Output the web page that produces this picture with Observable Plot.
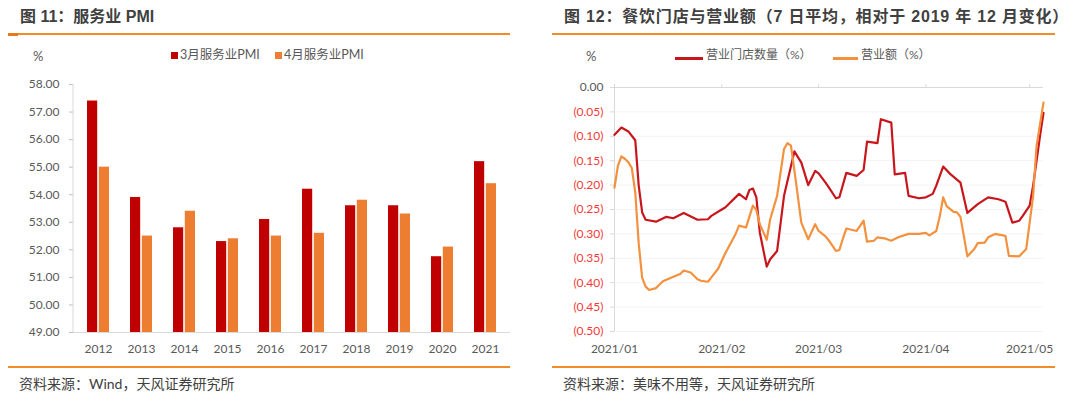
<!DOCTYPE html>
<html><head><meta charset="utf-8">
<script src="https://cdn.jsdelivr.net/npm/d3@7"></script>
<script src="https://cdn.jsdelivr.net/npm/@observablehq/plot@0.6"></script>
<style>
body{margin:0;background:#fff;width:1080px;height:405px;overflow:hidden;position:relative;font-family:Lato,"Noto Sans CJK SC",sans-serif;}
.abs{position:absolute;white-space:nowrap;}
.title{font-family:"Liberation Sans","Noto Sans CJK SC",sans-serif;font-size:16px;font-weight:bold;color:#404040;top:7px;line-height:20px;}
.hr{position:absolute;height:2px;background:#F28C28;}
.hr2{position:absolute;height:3px;background:#E8781C;}
.src{font-size:14px;color:#404040;top:375px;line-height:18px;}
.lg{font-size:12.5px;color:#595959;top:47px;line-height:16px;}
.pct{font-size:13px;color:#595959;top:48px;line-height:16px;}
.chart{position:absolute;top:74px;}
</style></head><body>
<div class="abs title" style="left:20px;">图 11：服务业 PMI</div>
<div class="abs title" style="left:564px;letter-spacing:0.8px;">图 12：餐饮门店与营业额（7 日平均，相对于 2019 年 12 月变化）</div>
<div class="hr" style="left:8px;width:502px;top:33px;"></div>
<div class="hr2" style="left:8px;width:10px;top:33px;"></div>
<div class="hr" style="left:552px;width:503px;top:33px;"></div>
<div class="hr" style="left:8px;width:502px;top:366px;"></div>
<div class="hr" style="left:552px;width:503px;top:366px;"></div>
<div class="abs src" style="left:19px;">资料来源：Wind，天风证券研究所</div>
<div class="abs src" style="left:563px;">资料来源：美味不用等，天风证券研究所</div>

<div class="abs pct" style="left:33px;">%</div>
<div class="abs" style="left:171px;top:52px;width:7px;height:7px;background:#C00000;"></div>
<div class="abs lg" id="lg1" style="left:180px;"></div>
<div class="abs" style="left:275px;top:52px;width:7px;height:7px;background:#ED7D31;"></div>
<div class="abs lg" id="lg2" style="left:284px;"></div>

<div class="abs pct" style="left:586px;">%</div>
<div class="abs" style="left:675px;top:57px;width:28px;height:3px;background:#C8161D;"></div>
<div class="abs lg" id="lg3" style="left:706px;font-size:12px;"></div>
<div class="abs" style="left:833px;top:57px;width:25px;height:3px;background:#F4913F;"></div>
<div class="abs lg" id="lg4" style="left:861px;font-size:12px;"></div>

<div id="left" class="chart" style="left:0px;"></div>
<div id="right" class="chart" style="left:540px;"></div>
<script>
// ---- Left chart data ----
const years = ["2012","2013","2014","2015","2016","2017","2018","2019","2020","2021"];
const pmiMarch = [57.4,53.9,52.8,52.3,53.1,54.2,53.6,53.6,51.75,55.2];
const pmiApril = [55.0,52.5,53.4,52.4,52.5,52.6,53.8,53.3,52.1,54.4];
const barSeries = ["3月服务业PMI","4月服务业PMI"];
const yTicksLeft = [49,50,51,52,53,54,55,56,57,58];

// ---- Right chart data ----
const lineSeries = ["营业门店数量（%）","营业额（%）"];
const storeDates = ["2021-01-01","2021-01-03","2021-01-05","2021-01-07","2021-01-08","2021-01-09","2021-01-10","2021-01-13","2021-01-16","2021-01-18","2021-01-21","2021-01-25","2021-01-28","2021-01-29","2021-02-01","2021-02-02","2021-02-06","2021-02-08","2021-02-09","2021-02-10","2021-02-11","2021-02-12","2021-02-14","2021-02-15","2021-02-17","2021-02-19","2021-02-22","2021-02-24","2021-02-26","2021-02-28","2021-03-01","2021-03-03","2021-03-04","2021-03-06","2021-03-07","2021-03-09","2021-03-12","2021-03-14","2021-03-15","2021-03-18","2021-03-19","2021-03-22","2021-03-23","2021-03-26","2021-03-27","2021-03-30","2021-04-01","2021-04-03","2021-04-04","2021-04-06","2021-04-08","2021-04-11","2021-04-13","2021-04-16","2021-04-19","2021-04-22","2021-04-24","2021-04-26","2021-04-28","2021-04-29","2021-05-01","2021-05-02","2021-05-04","2021-05-05"];
const storeValues = [-0.097,-0.082,-0.090,-0.108,-0.201,-0.256,-0.271,-0.275,-0.265,-0.268,-0.257,-0.271,-0.270,-0.263,-0.250,-0.246,-0.218,-0.229,-0.210,-0.207,-0.225,-0.297,-0.367,-0.352,-0.335,-0.222,-0.131,-0.154,-0.200,-0.171,-0.176,-0.195,-0.205,-0.227,-0.225,-0.175,-0.181,-0.169,-0.111,-0.114,-0.065,-0.072,-0.178,-0.175,-0.222,-0.227,-0.225,-0.218,-0.201,-0.162,-0.177,-0.195,-0.257,-0.239,-0.225,-0.229,-0.234,-0.277,-0.273,-0.263,-0.242,-0.201,-0.099,-0.052];
const revenueDates = ["2021-01-01","2021-01-02","2021-01-03","2021-01-04","2021-01-05","2021-01-06","2021-01-07","2021-01-08","2021-01-09","2021-01-10","2021-01-11","2021-01-13","2021-01-15","2021-01-18","2021-01-20","2021-01-21","2021-01-23","2021-01-25","2021-01-26","2021-01-28","2021-01-29","2021-01-31","2021-02-01","2021-02-02","2021-02-05","2021-02-06","2021-02-08","2021-02-10","2021-02-11","2021-02-12","2021-02-14","2021-02-15","2021-02-17","2021-02-19","2021-02-20","2021-02-21","2021-02-22","2021-02-24","2021-02-26","2021-02-28","2021-03-01","2021-03-03","2021-03-04","2021-03-06","2021-03-07","2021-03-08","2021-03-09","2021-03-12","2021-03-14","2021-03-15","2021-03-17","2021-03-18","2021-03-20","2021-03-22","2021-03-24","2021-03-27","2021-03-30","2021-04-01","2021-04-02","2021-04-04","2021-04-05","2021-04-06","2021-04-07","2021-04-09","2021-04-10","2021-04-11","2021-04-13","2021-04-15","2021-04-16","2021-04-18","2021-04-19","2021-04-21","2021-04-24","2021-04-25","2021-04-28","2021-04-30","2021-05-02","2021-05-03","2021-05-05"];
const revenueValues = [-0.205,-0.160,-0.141,-0.146,-0.153,-0.165,-0.215,-0.320,-0.390,-0.408,-0.415,-0.411,-0.397,-0.388,-0.382,-0.375,-0.379,-0.393,-0.396,-0.398,-0.389,-0.371,-0.355,-0.340,-0.300,-0.283,-0.287,-0.242,-0.251,-0.280,-0.312,-0.270,-0.222,-0.126,-0.114,-0.119,-0.170,-0.277,-0.311,-0.280,-0.294,-0.305,-0.314,-0.335,-0.333,-0.310,-0.289,-0.294,-0.273,-0.316,-0.314,-0.307,-0.309,-0.314,-0.307,-0.300,-0.300,-0.298,-0.303,-0.294,-0.265,-0.225,-0.243,-0.255,-0.256,-0.265,-0.346,-0.331,-0.319,-0.318,-0.307,-0.300,-0.304,-0.345,-0.346,-0.331,-0.222,-0.119,-0.031];
const monthTicks = ["2021-01-01","2021-02-01","2021-03-01","2021-04-01","2021-05-01"];
const xDomainRight = ["2021-01-01","2021-05-05"];
const yTicksRight = [0,-0.05,-0.10,-0.15,-0.20,-0.25,-0.30,-0.35,-0.40,-0.45,-0.50];

document.getElementById("lg1").textContent = barSeries[0];
document.getElementById("lg2").textContent = barSeries[1];
document.getElementById("lg3").textContent = lineSeries[0];
document.getElementById("lg4").textContent = lineSeries[1];

const font = "Lato, 'Noto Sans CJK SC', sans-serif";
const marchData = years.map((y,i)=>({year:y, v:pmiMarch[i]}));
const aprilData = years.map((y,i)=>({year:y, v:pmiApril[i]}));

const leftPlot = Plot.plot({
  width:540, height:290, marginTop:10, marginBottom:32, marginLeft:73, marginRight:30,
  style:{fontFamily:font, fontSize:"12px", color:"#595959", background:"transparent"},
  x:{domain:years, paddingInner:0.5, paddingOuter:0.25},
  y:{domain:[49,58]},
  marks:[
    Plot.ruleY([49], {stroke:"#d9d9d9"}),
    Plot.barY(marchData, {x:"year", y1:49, y2:"v", fill:"#C00000", insetRight:11.8}),
    Plot.barY(aprilData, {x:"year", y1:49, y2:"v", fill:"#ED7D31", insetLeft:11.8}),
    Plot.axisY(yTicksLeft, {tickSize:4, tickPadding:10, tickFormat:d3.format(".2f"), stroke:"#bfbfbf", fill:"#595959", label:null}),
    Plot.axisX({tickSize:0, tickPadding:12, fill:"#595959", label:null})
  ]
});
document.getElementById("left").appendChild(leftPlot);
{
  const yr = leftPlot.scale("y").range;
  d3.select(leftPlot).append("line").attr("x1",73).attr("x2",73)
    .attr("y1",yr[0]).attr("y2",yr[1]).attr("stroke","#d9d9d9");
}

const storeData = storeDates.map((d,i)=>({date:new Date(d), v:storeValues[i]}));
const revenueData = revenueDates.map((d,i)=>({date:new Date(d), v:revenueValues[i]}));
const mt = monthTicks.map(d=>new Date(d));
const xd = xDomainRight.map(d=>new Date(d));
const fmtR = v => v === 0 ? "0.00" : `(${Math.abs(v).toFixed(2)})`;

const rightPlot = Plot.plot({
  width:540, height:290, marginTop:13, marginBottom:33, marginLeft:74, marginRight:37,
  style:{fontFamily:font, fontSize:"12px", color:"#595959", background:"transparent"},
  x:{type:"utc", domain:xd},
  y:{domain:[-0.5,0]},
  marks:[
    Plot.gridY(yTicksRight.filter(v=>v<0), {stroke:"#f3f3f3", strokeOpacity:1}),
    Plot.ruleY([0], {stroke:"#d9d9d9"}),
    Plot.ruleX([xd[0]], {stroke:"#d9d9d9"}),
    Plot.axisX(mt, {anchor:"top", tickSize:4, tickFormat:()=>"", stroke:"#d9d9d9", label:null}),
    Plot.axisX(mt, {anchor:"bottom", tickSize:0, tickPadding:13, tickFormat:d3.utcFormat("%Y/%m"), fill:"#595959", label:null}),
    Plot.axisY([0], {tickSize:4, tickPadding:7, tickFormat:fmtR, stroke:"#d9d9d9", fill:"#595959", label:null}),
    Plot.axisY(yTicksRight.filter(v=>v<0), {tickSize:4, tickPadding:7, tickFormat:fmtR, stroke:"#d9d9d9", fill:"#F23B3B", label:null}),
    Plot.line(storeData, {x:"date", y:"v", stroke:"#C8161D", strokeWidth:2.2}),
    Plot.line(revenueData, {x:"date", y:"v", stroke:"#F4913F", strokeWidth:2.2})
  ]
});
document.getElementById("right").appendChild(rightPlot);
</script>
</body></html>
